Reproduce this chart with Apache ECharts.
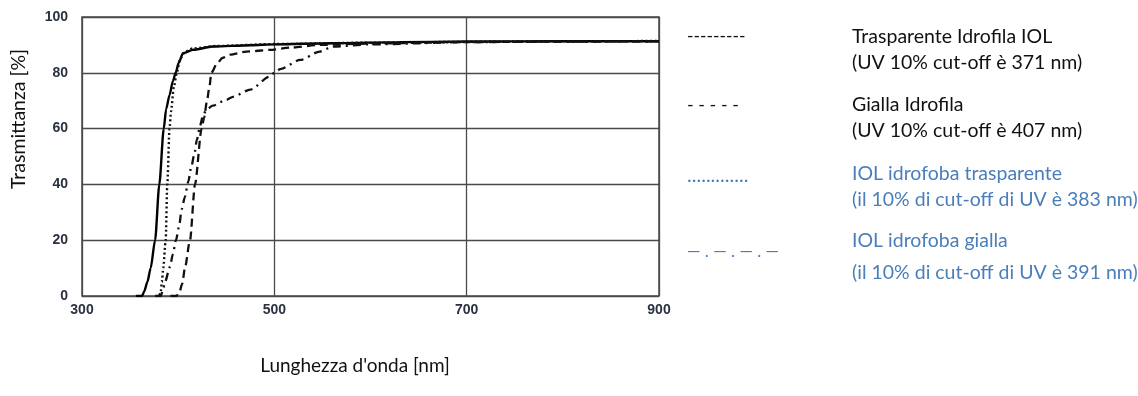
<!DOCTYPE html>
<html>
<head>
<meta charset="utf-8">
<script src="https://cdn.jsdelivr.net/npm/echarts@6/dist/echarts.min.js"></script>
<style>
  html, body { margin: 0; padding: 0; background: #fff; }
  #chart { width: 1138px; height: 396px; }
</style>
</head>
<body>
<div id="chart"></div>
<script>
// x tick labels (wavelength, nm) and y ticks (transmittance, %)
const xTicks = [300, 500, 700, 900];
const yTicks = [0, 20, 40, 60, 80, 100];

// [wavelength nm, transmittance %]
const trasparenteIdrofila = [
  [356, 0], [362.5, 0], [364.5, 1.5], [368, 5], [371.4, 10], [376, 20], [380.4, 40],
  [385, 60], [387.5, 67], [391, 72], [394.5, 77], [397.4, 80], [400.5, 83.5],
  [405, 87], [415, 88.2], [436, 89.4], [475, 89.9], [500, 90.2], [560, 90.6],
  [630, 91], [700, 91.2], [800, 91.3], [900, 91.3]
];
const giallaIdrofila = [
  [392, 0], [398, 0], [401, 1], [404.3, 4.5], [407, 10], [412.3, 20], [417.5, 40],
  [424.4, 60], [427, 64], [430, 70], [432.5, 75], [434.5, 80], [440.6, 83.4],
  [446, 85.3], [454, 86.5], [471, 87.6], [495, 88.2], [516, 89], [547, 90],
  [600, 90.5], [700, 91], [800, 91.2], [900, 91.3]
];
const idrofobaTrasparente = [
  [376, 0], [380, 0], [381.8, 1], [383, 5], [384.5, 10], [387, 20], [388.7, 40],
  [391, 60], [392.5, 66], [395.5, 75], [398.6, 80], [402, 85], [407, 87.5],
  [415, 88.7], [440, 89.6], [500, 90.3], [600, 90.8], [700, 91.1], [800, 91.3], [900, 91.4]
];
const idrofobaGialla = [
  [378, 0], [382, 0], [384, 2], [386.3, 5], [391.5, 10.5], [394.5, 15], [397.7, 20],
  [401, 25], [403.6, 31], [407, 35.5], [410.5, 41], [413.5, 46], [416.7, 50.6],
  [419.5, 56], [422.7, 61], [426, 65], [430, 67], [436, 68.2], [450, 70.3],
  [457, 71.4], [475, 74], [495, 78.6], [500, 80], [506, 81.3], [527, 84.6],
  [547, 87.6], [561, 89.4], [600, 90.2], [700, 91], [800, 91.2], [900, 91.3]
];

const legendRows = [
  { sample: '---------', sampleSize: 17.5, lines: ['Trasparente Idrofila IOL', '(UV 10% cut-off è 371 nm)'], color: '#111' },
  { sample: '- - - - -', sampleSize: 18, lines: ['Gialla Idrofila', '(UV 10% cut-off è 407 nm)'], color: '#111' },
  { sample: '.............', sampleSize: 20, lines: ['IOL idrofoba trasparente', '(il 10% di cut-off di UV è 383 nm)'], color: '#4a7ebb' },
  { sample: '— . — . — . —', sampleSize: 17, lines: ['IOL idrofoba gialla', '(il 10% di cut-off di UV è 391 nm)'], color: '#4a7ebb' }
];

const chart = echarts.init(document.getElementById('chart'));

const tickFont = { fontFamily: 'Liberation Sans, Arial', fontWeight: 'bold', fontSize: 14, color: '#2a3140' };
const textFont = 'Lato, Open Sans, sans-serif';
const gridColor = '#4a4a4a';

// legend drawn as plain text, like the original
const rowTop = [36.7, 105, 173.3, 240.7];
const rowGap = [25.6, 26, 26, 32];
const sampleY = [36.5, 105, 176, 252];
const graphics = [];
legendRows.forEach((r, i) => {
  graphics.push({
    type: 'text', x: 687, y: sampleY[i],
    style: { text: r.sample, fill: r.color, font: r.sampleSize + 'px ' + textFont, textVerticalAlign: 'middle' }
  });
  r.lines.forEach((t, j) => {
    graphics.push({
      type: 'text', x: 852, y: rowTop[i] + j * rowGap[i],
      style: { text: t, fill: r.color, font: '19.5px ' + textFont, textVerticalAlign: 'middle' }
    });
  });
});
graphics.push({
  type: 'text', x: 19, y: 119, rotation: Math.PI / 2,
  style: { text: 'Trasmittanza [%]', fill: '#111', font: '19.5px ' + textFont, textAlign: 'center', textVerticalAlign: 'middle' }
});
graphics.push({
  type: 'text', x: 355, y: 366,
  style: { text: "Lunghezza d'onda [nm]", fill: '#111', font: '19px ' + textFont, textAlign: 'center', textVerticalAlign: 'middle' }
});

const lineBase = { type: 'line', showSymbol: false, smooth: 0.25, smoothMonotone: 'x', animation: false, z: 3 };

chart.setOption({
  animation: false,
  grid: { left: 82, top: 17, width: 577, height: 279, show: true, borderColor: gridColor, borderWidth: 1.5 },
  xAxis: {
    type: 'value', min: xTicks[0], max: xTicks[xTicks.length - 1], interval: xTicks[1] - xTicks[0],
    axisLine: { show: false }, axisTick: { show: false },
    axisLabel: Object.assign({ margin: 7 }, tickFont),
    splitLine: { show: true, lineStyle: { color: gridColor, width: 1.3 } }
  },
  yAxis: {
    type: 'value', min: yTicks[0], max: yTicks[yTicks.length - 1], interval: yTicks[1] - yTicks[0],
    axisLine: { show: false }, axisTick: { show: false },
    axisLabel: Object.assign({ margin: 14 }, tickFont),
    splitLine: { show: true, lineStyle: { color: gridColor, width: 1.3 } }
  },
  graphic: graphics,
  series: [
    Object.assign({}, lineBase, { name: 'Trasparente Idrofila IOL', data: trasparenteIdrofila,
      lineStyle: { color: '#000', width: 2.4, type: 'solid' } }),
    Object.assign({}, lineBase, { name: 'Gialla Idrofila', data: giallaIdrofila,
      lineStyle: { color: '#111', width: 2.3, type: [8, 5] } }),
    Object.assign({}, lineBase, { name: 'IOL idrofoba trasparente', data: idrofobaTrasparente,
      lineStyle: { color: '#111', width: 2.4, type: [2, 2.6] } }),
    Object.assign({}, lineBase, { name: 'IOL idrofoba gialla', data: idrofobaGialla,
      lineStyle: { color: '#111', width: 2.3, type: [8, 5, 2, 5] } })
  ]
});
</script>
</body>
</html>
